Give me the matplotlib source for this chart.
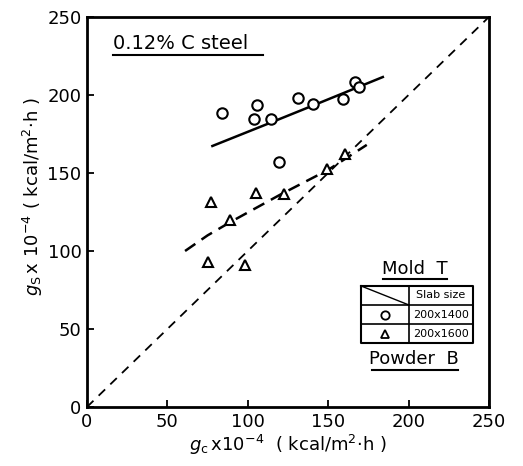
import numpy as np
import matplotlib.pyplot as plt

# Data (x = qc, y = qs, both x10^-4 kcal/m2h)
circ_x = [84.2, 105.5, 103.7, 114.4, 131.4, 140.3, 159.2, 166.7, 169.3, 119.2]
circ_y = [188.3, 193.6, 184.6, 184.4, 197.9, 194.4, 197.2, 208.5, 204.9, 156.8]
tri_x = [160.4, 149.5, 122.3, 104.9, 77.1, 88.7, 75.0, 98.5]
tri_y = [162.2, 152.8, 136.3, 137.4, 131.6, 119.9, 93.2, 91.0]

# fitted curves drawn in the figure
fit_circ_x = [78, 110, 140, 184]
fit_circ_y = [167.3, 180.5, 193.0, 211.5]
fit_tri_x = [61, 75, 90, 120, 150, 174]
fit_tri_y = [100, 110, 119, 136, 152, 168]

ticks = [0, 50, 100, 150, 200, 250]
sizes = ['200x1400', '200x1600']

plt.rcParams['font.family'] = 'DejaVu Sans'
plt.rcParams['mathtext.fontset'] = 'dejavusans'

fig = plt.figure(figsize=(5.23, 4.66), dpi=100)
ax = fig.add_axes([0.1663, 0.1266, 0.7686, 0.837])

# y = x line
ax.plot([0, 250], [0, 250], 'k--', lw=1.3, dashes=(5, 4))
ax.plot(fit_circ_x, fit_circ_y, 'k-', lw=1.8)
ax.plot(fit_tri_x, fit_tri_y, 'k--', lw=1.8, dashes=(5, 3))
ax.plot(circ_x, circ_y, 'o', ms=7.5, mfc='white', mec='black', mew=1.5, ls='none')
ax.plot(tri_x, tri_y, '^', ms=7.5, mfc='white', mec='black', mew=1.5, ls='none')

ax.set_xlim(0, 250)
ax.set_ylim(0, 250)
ax.set_xticks(ticks)
ax.set_yticks(ticks)
ax.tick_params(direction='in', length=5, width=1.3, labelsize=13, pad=4)
for s in ax.spines.values():
	s.set_linewidth(2)

ax.set_xlabel(r'$g_{\rm c}\,$x10$^{-4}$  ( kcal/m$^2$$\cdot$h )', fontsize=13, labelpad=2)
ax.set_ylabel(r'$g_{\rm S}\,$x 10$^{-4}$ ( kcal/m$^2$$\cdot$h )', fontsize=13)
ax.yaxis.set_label_coords(-0.105, 0.54)

# title inside the plot
ax.text(16.2, 233.3, '0.12% C steel', fontsize=14, va='center', ha='left')
ax.plot([16.2, 109.5], [225.6, 225.6], 'k-', lw=1.5)

# legend table
ax.text(204, 88.3, 'Mold  T', fontsize=13, ha='center', va='center')
ax.plot([183.8, 223.7], [82, 82], 'k-', lw=1.5)
ax.text(203.5, 30.6, 'Powder  B', fontsize=13, ha='center', va='center')
ax.plot([177.4, 231], [23.7, 23.7], 'k-', lw=1.5)

x0, xm, x1 = 170.4, 200.2, 239.9
yt, y1, y2, yb = 77.6, 65.4, 53.0, 40.8
ax.plot([x0, x1, x1, x0, x0], [yt, yt, yb, yb, yt], 'k-', lw=1.5)
ax.plot([x0, x1], [y1, y1], 'k-', lw=1.2)
ax.plot([x0, x1], [y2, y2], 'k-', lw=1.2)
ax.plot([xm, xm], [yt, yb], 'k-', lw=1.2)
ax.plot([x0, xm], [yt, y1], 'k-', lw=1.0)
ax.text((xm + x1) / 2, (yt + y1) / 2, 'Slab size', fontsize=8, ha='center', va='center')
ax.text((xm + x1) / 2, (y1 + y2) / 2, sizes[0], fontsize=8, ha='center', va='center')
ax.text((xm + x1) / 2, (y2 + yb) / 2, sizes[1], fontsize=8, ha='center', va='center')
ax.plot([(x0 + xm) / 2], [(y1 + y2) / 2], 'o', ms=6, mfc='white', mec='black', mew=1.3)
ax.plot([(x0 + xm) / 2], [(y2 + yb) / 2], '^', ms=6, mfc='white', mec='black', mew=1.3)

fig.savefig('out.png', dpi=100)
